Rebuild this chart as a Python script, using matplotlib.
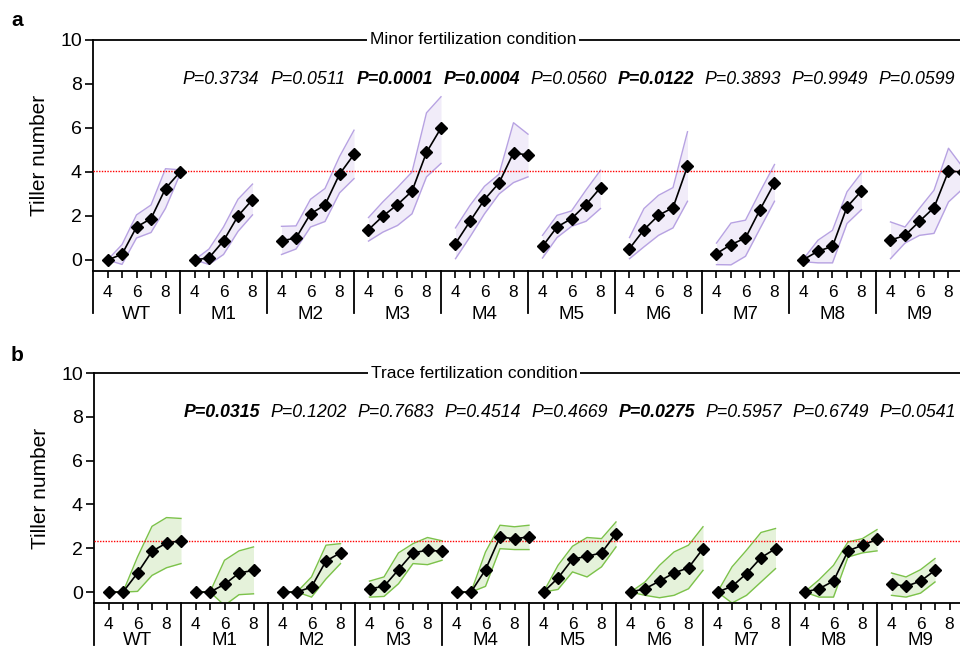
import numpy as np
import matplotlib
matplotlib.use("Agg")
import matplotlib.pyplot as plt
import matplotlib.transforms as mtransforms

plt.rcParams['font.family'] = ['Liberation Sans', 'DejaVu Sans']

groups = ['WT', 'M1', 'M2', 'M3', 'M4', 'M5', 'M6', 'M7', 'M8', 'M9']
first_week = 4

# minor fertilization (panel a): mean and band per group, weeks from 4 on
minor_mean = [[0, 0.26, 1.5, 1.88, 3.25, 4.0],
              [0, 0.1, 0.87, 2.0, 2.75],
              [0.87, 1.0, 2.1, 2.5, 3.9, 4.8],
              [1.38, 2.0, 2.52, 3.13, 4.89, 6.0],
              [0.75, 1.76, 2.75, 3.5, 4.87, 4.77],
              [0.62, 1.5, 1.88, 2.52, 3.29],
              [0.52, 1.38, 2.03, 2.38, 4.26],
              [0.29, 0.7, 1.0, 2.29, 3.5],
              [0.02, 0.4, 0.62, 2.41, 3.14],
              [0.9, 1.12, 1.76, 2.38, 4.04, 4.0]]
minor_hi = [[0, 0.7, 2.05, 2.5, 4.15, 4.1],
            [0, 0.5, 1.5, 2.76, 3.45],
            [1.53, 1.55, 2.76, 3.25, 4.7, 5.9],
            [1.93, 2.65, 3.3, 4.0, 6.69, 7.42],
            [1.46, 2.48, 3.35, 3.9, 6.24, 5.72],
            [1.12, 2.03, 2.23, 3.18, 4.08],
            [1.02, 2.34, 2.94, 3.29, 5.83],
            [0.77, 1.68, 1.81, 3.1, 4.34],
            [0.05, 0.9, 1.35, 3.1, 3.96],
            [1.73, 1.5, 2.35, 3.17, 5.08, 4.2]]
minor_lo = [[0, -0.2, 1.0, 1.25, 2.35, 3.9],
            [0, -0.2, 0.25, 1.3, 2.05],
            [0.25, 0.5, 1.5, 1.75, 3.05, 3.7],
            [0.86, 1.27, 1.57, 2.1, 3.78, 4.39],
            [0.06, 1.05, 2.1, 3.0, 3.52, 3.78],
            [0.09, 1.02, 1.53, 1.76, 2.34],
            [0.06, 0.6, 1.12, 1.46, 2.67],
            [-0.21, -0.22, 0.17, 1.43, 2.67],
            [-0.08, -0.13, -0.13, 1.66, 2.29],
            [0.06, 0.77, 1.12, 1.21, 2.64, 3.25]]
minor_p = [0.3734, 0.0511, 0.0001, 0.0004, 0.0560, 0.0122, 0.3893, 0.9949, 0.0599]
minor_ref = 4.05

# trace fertilization (panel b)
trace_mean = [[0, 0, 0.87, 1.86, 2.24, 2.34],
              [0, 0, 0.35, 0.87, 0.99],
              [0, 0, 0.23, 1.42, 1.79],
              [0.15, 0.26, 1.02, 1.79, 1.91, 1.86],
              [0, 0, 1.02, 2.52, 2.43, 2.52],
              [0, 0.64, 1.5, 1.63, 1.79, 2.67],
              [0, 0.15, 0.5, 0.87, 1.11, 1.98],
              [0, 0.26, 0.84, 1.57, 1.98],
              [0, 0.15, 0.5, 1.88, 2.14, 2.4],
              [0.38, 0.26, 0.5, 0.99]]
trace_hi = [[0, 0, 1.6, 3.0, 3.4, 3.36],
            [0, 0, 1.45, 1.88, 2.06],
            [0, 0, 0.69, 2.14, 2.21],
            [0.5, 0.69, 1.79, 2.21, 2.49, 2.34],
            [0, 0, 1.83, 3.05, 2.98, 3.05],
            [0, 1.22, 2.09, 2.49, 2.44, 3.2],
            [0, 0.46, 1.22, 1.83, 2.14, 2.98],
            [0, 1.15, 1.91, 2.72, 2.9],
            [0, 0.56, 1.22, 2.29, 2.44, 2.85],
            [0.87, 0.69, 1.02, 1.53]]
trace_lo = [[0, 0, 0.03, 0.76, 1.11, 1.3],
            [0, 0, -0.61, -0.12, -0.08],
            [0, 0, -0.23, 0.6, 1.3],
            [-0.23, -0.2, 0.38, 1.3, 1.25, 1.45],
            [0, 0, 0.26, 1.98, 1.94, 1.94],
            [0, 0.12, 0.92, 0.69, 1.15, 2.06],
            [0, -0.15, -0.26, -0.15, 0.15, 0.99],
            [0, -0.5, -0.15, 0.46, 1.07],
            [0, -0.23, -0.23, 1.6, 1.79, 1.88],
            [-0.15, -0.23, -0.05, 0.46]]
trace_p = [0.0315, 0.1202, 0.7683, 0.4514, 0.4669, 0.0275, 0.5957, 0.6749, 0.0541]
trace_ref = 2.34


def pos(g, w):
    # each group takes 6 slots: weeks 4..9
    return g * 6 + (w - first_week)


def draw_panel(ax, mean, hi, lo, pvals, ref, title, edge, face, x_right, name_y):
    for g in range(len(groups)):
        n = len(mean[g])
        xs = [pos(g, first_week + i) for i in range(n)]
        ax.fill_between(xs, lo[g], hi[g], color=face, lw=0, zorder=1)
        ax.plot(xs, hi[g], color=edge, lw=1.0, zorder=2)
        ax.plot(xs, lo[g], color=edge, lw=1.0, zorder=2)
        ax.plot(xs, mean[g], color='black', lw=1.2, marker='D',
                markersize=6, zorder=4)

    ax.axhline(ref, color='red', ls=(0, (1, 1)), lw=1.0, zorder=3)

    ax.set_xlim(-1, x_right)
    ax.set_ylim(-0.5, 10)
    ax.set_yticks([0, 2, 4, 6, 8, 10])
    ax.tick_params(axis='y', labelsize=14, length=6, width=1.2, pad=2)

    ticks, labels = [], []
    for g in range(len(groups)):
        for w in range(4, 9):
            ticks.append(pos(g, w))
            labels.append(str(w) if w % 2 == 0 else '')
    ax.set_xticks(ticks)
    ax.set_xticklabels(labels)
    ax.tick_params(axis='x', labelsize=12.5, length=5, width=1.2, pad=5)

    for s in ['left', 'bottom', 'top']:
        ax.spines[s].set_linewidth(1.3)
    ax.spines['right'].set_visible(False)

    trans = mtransforms.blended_transform_factory(ax.transData, ax.transAxes)
    seps = [-1] + [pos(g, 9) for g in range(len(groups) - 1)]
    for s in seps:
        ax.plot([s, s], [0, -0.183], transform=trans, color='black',
                lw=1.3, clip_on=False)
    for g, name in enumerate(groups):
        ax.text(pos(g, 6), name_y, name, transform=trans, ha='center',
                va='top', fontsize=13.5)

    for g, p in enumerate(pvals, start=1):
        ax.text(pos(g, 5.8), 8.2, 'P=%.4f' % p, ha='center', va='center',
                fontsize=12.8, style='italic',
                weight='bold' if p < 0.05 else 'normal')

    ax.text(25.2, 1.0, title, transform=trans, ha='center', va='center',
            fontsize=12.5, bbox=dict(facecolor='white', edgecolor='none', pad=2))
    ax.set_ylabel('Tiller number', fontsize=15, labelpad=8)


fig = plt.figure(figsize=(9.6, 6.53), dpi=100)

ax_a = fig.add_axes([93 / 960, 1 - 271 / 653, 1 - 93 / 960, (271 - 40) / 653])
draw_panel(ax_a, minor_mean, minor_hi, minor_lo, minor_p, minor_ref,
           'Minor fertilization condition', '#b7a2e2', '#f1ecf9',
           -1 + (960 - 93) / 14.5, -0.152)

ax_b = fig.add_axes([94 / 960, 1 - 603 / 653, 1 - 94 / 960, (603 - 373) / 653])
draw_panel(ax_b, trace_mean, trace_hi, trace_lo, trace_p, trace_ref,
           'Trace fertilization condition', '#7cc24a', '#e5f2da',
           -1 + (960 - 94) / 14.5, -0.128)

fig.text(11 / 960, 1 - 20 / 653, 'a', fontsize=15, weight='bold', va='center')
fig.text(11 / 960, 1 - 355 / 653, 'b', fontsize=15, weight='bold', va='center')

fig.savefig('out.png', dpi=100)
